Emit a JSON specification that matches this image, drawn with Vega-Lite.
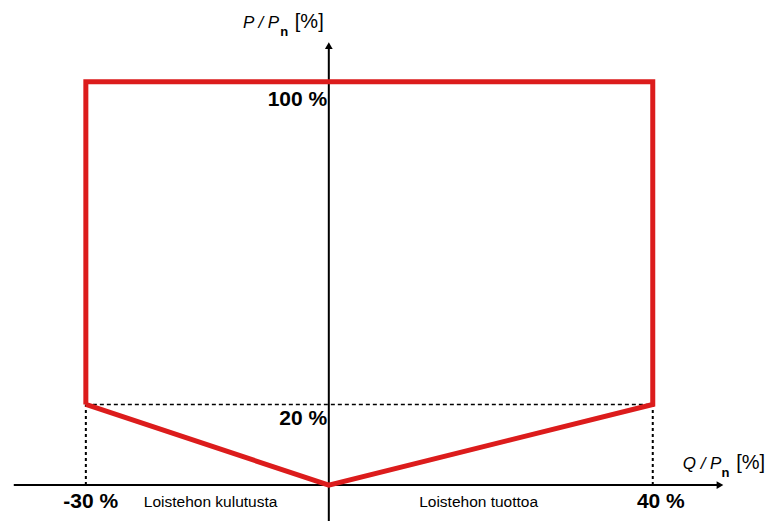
{
  "$schema": "https://vega.github.io/schema/vega-lite/v6.json",
  "width": 771,
  "height": 522,
  "autosize": {"type": "fit", "contains": "padding"},
  "padding": 0,
  "background": "white",
  "config": {"view": {"stroke": null}, "font": "Liberation Sans"},
  "datasets": {
    "region": [
      {"q": -30, "p": 20, "o": 1},
      {"q": -30, "p": 100, "o": 2},
      {"q": 40, "p": 100, "o": 3},
      {"q": 40, "p": 20, "o": 4},
      {"q": 0, "p": 0, "o": 5},
      {"q": -30, "p": 20, "o": 6}
    ],
    "axes": [
      {"x1": -38.9, "x2": 48.0, "y1": 0, "y2": 0},
      {"x1": 0, "x2": 0, "y1": -8.9, "y2": 108.4}
    ],
    "hdash": [{"x1": -30, "x2": 40, "y1": 20, "y2": 20}],
    "vdash": [
      {"x1": -30, "x2": -30, "y1": 0, "y2": 20},
      {"x1": 40, "x2": 40, "y1": 0, "y2": 20}
    ],
    "arrowR": [{"x": 48.3, "y": 0}],
    "arrowU": [{"x": 0, "y": 109.0}],
    "ylabels": [
      {"x": -0.2, "y": 95.5, "t": "100 %"},
      {"x": -0.2, "y": 16.3, "t": "20 %"}
    ],
    "xlabels": [
      {"x": -29.4, "y": -4.2, "t": "-30 %"},
      {"x": 41.0, "y": -4.2, "t": "40 %"}
    ],
    "notes": [
      {"x": -14.6, "y": -4.2, "t": "Loistehon kulutusta"},
      {"x": 18.5, "y": -4.2, "t": "Loistehon tuottoa"}
    ],
    "titleMain": [
      {"x": -10.6, "y": 113.4, "t": "P / P"},
      {"x": 43.7, "y": 3.96, "t": "Q / P"}
    ],
    "titleSub": [
      {"x": -6.0, "y": 111.4, "t": "n"},
      {"x": 48.5, "y": 2.0, "t": "n"}
    ],
    "titleUnit": [
      {"x": -4.2, "y": 113.4, "t": "[%]"},
      {"x": 50.3, "y": 3.96, "t": "[%]"}
    ]
  },
  "encoding": {
    "x": {"type": "quantitative", "scale": {"domain": [-40.6, 54.6], "nice": false, "zero": false}, "axis": null},
    "y": {"type": "quantitative", "scale": {"domain": [-8.9, 120.3], "nice": false, "zero": false}, "axis": null}
  },
  "layer": [
    {
      "data": {"name": "hdash"},
      "mark": {"type": "rule", "color": "black", "strokeWidth": 1.5, "strokeDash": [4, 3]},
      "encoding": {"x": {"field": "x1"}, "x2": {"field": "x2"}, "y": {"field": "y1"}, "y2": {"field": "y2"}}
    },
    {
      "data": {"name": "vdash"},
      "mark": {"type": "rule", "color": "black", "strokeWidth": 2, "strokeDash": [3, 3]},
      "encoding": {"x": {"field": "x1"}, "x2": {"field": "x2"}, "y": {"field": "y1"}, "y2": {"field": "y2"}}
    },
    {
      "data": {"name": "axes"},
      "mark": {"type": "rule", "color": "black", "strokeWidth": 2},
      "encoding": {"x": {"field": "x1"}, "x2": {"field": "x2"}, "y": {"field": "y1"}, "y2": {"field": "y2"}}
    },
    {
      "data": {"name": "arrowR"},
      "mark": {"type": "point", "shape": "triangle-right", "filled": true, "color": "black", "size": 60, "opacity": 1},
      "encoding": {"x": {"field": "x"}, "y": {"field": "y"}}
    },
    {
      "data": {"name": "arrowU"},
      "mark": {"type": "point", "shape": "triangle-up", "filled": true, "color": "black", "size": 60, "opacity": 1},
      "encoding": {"x": {"field": "x"}, "y": {"field": "y"}}
    },
    {
      "data": {"name": "region"},
      "mark": {"type": "line", "color": "#dc1c1c", "strokeWidth": 5, "strokeJoin": "miter"},
      "encoding": {"x": {"field": "q"}, "y": {"field": "p"}, "order": {"field": "o", "type": "quantitative"}}
    },
    {
      "data": {"name": "ylabels"},
      "mark": {"type": "text", "align": "right", "baseline": "middle", "fontSize": 21, "fontWeight": "bold", "color": "black"},
      "encoding": {"x": {"field": "x"}, "y": {"field": "y"}, "text": {"field": "t"}}
    },
    {
      "data": {"name": "xlabels"},
      "mark": {"type": "text", "align": "center", "baseline": "middle", "fontSize": 21, "fontWeight": "bold", "color": "black"},
      "encoding": {"x": {"field": "x"}, "y": {"field": "y"}, "text": {"field": "t"}}
    },
    {
      "data": {"name": "notes"},
      "mark": {"type": "text", "align": "center", "baseline": "middle", "fontSize": 15.5, "color": "black"},
      "encoding": {"x": {"field": "x"}, "y": {"field": "y"}, "text": {"field": "t"}}
    },
    {
      "data": {"name": "titleMain"},
      "mark": {"type": "text", "align": "left", "baseline": "alphabetic", "fontSize": 17, "fontStyle": "italic", "color": "black"},
      "encoding": {"x": {"field": "x"}, "y": {"field": "y"}, "text": {"field": "t"}}
    },
    {
      "data": {"name": "titleSub"},
      "mark": {"type": "text", "align": "left", "baseline": "alphabetic", "fontSize": 13, "fontWeight": "bold", "color": "black"},
      "encoding": {"x": {"field": "x"}, "y": {"field": "y"}, "text": {"field": "t"}}
    },
    {
      "data": {"name": "titleUnit"},
      "mark": {"type": "text", "align": "left", "baseline": "alphabetic", "fontSize": 20, "color": "black"},
      "encoding": {"x": {"field": "x"}, "y": {"field": "y"}, "text": {"field": "t"}}
    }
  ]
}
